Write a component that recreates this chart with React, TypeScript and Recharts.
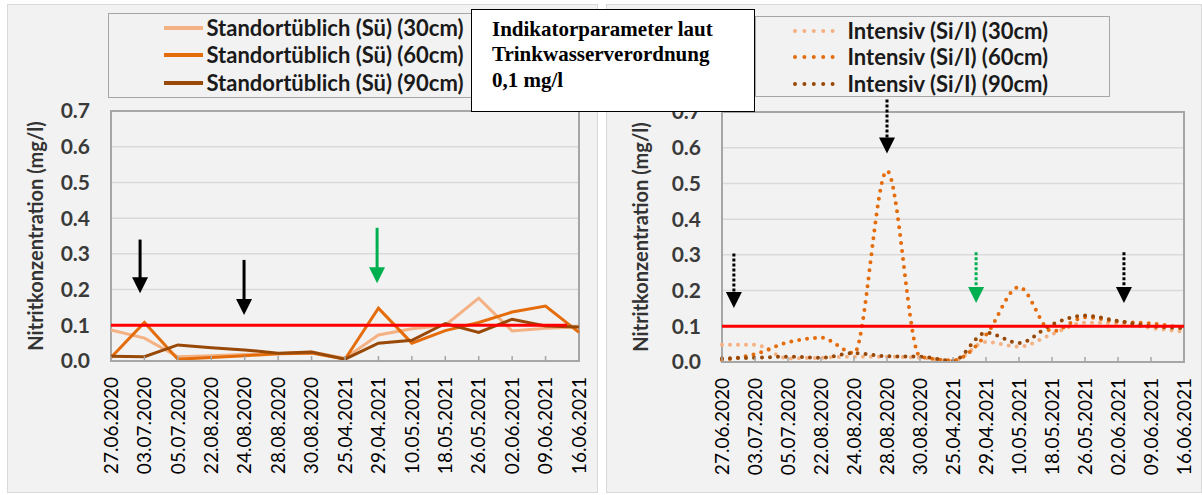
import React from "react";
import {
  LineChart,
  Line,
  XAxis,
  YAxis,
  CartesianGrid,
  ReferenceLine,
  ReferenceArea,
  Legend,
} from "recharts";

const dates = [
  "27.06.2020", "03.07.2020", "05.07.2020", "22.08.2020", "24.08.2020",
  "28.08.2020", "30.08.2020", "25.04.2021", "29.04.2021", "10.05.2021",
  "18.05.2021", "26.05.2021", "02.06.2021", "09.06.2021", "16.06.2021",
];

const standortNames = [
  "Standortüblich (Sü) (30cm)",
  "Standortüblich (Sü) (60cm)",
  "Standortüblich (Sü) (90cm)",
];
const intensivNames = [
  "Intensiv (Si/I) (30cm)",
  "Intensiv (Si/I) (60cm)",
  "Intensiv (Si/I) (90cm)",
];

const standort30 = [0.087, 0.064, 0.012, 0.015, 0.018, 0.02, 0.025, 0.008, 0.073, 0.09, 0.1, 0.176, 0.084, 0.092, 0.095];
const standort60 = [0.01, 0.108, 0.005, 0.01, 0.015, 0.02, 0.022, 0.005, 0.148, 0.05, 0.085, 0.108, 0.137, 0.154, 0.08];
const standort90 = [0.013, 0.012, 0.045, 0.037, 0.031, 0.022, 0.025, 0.005, 0.05, 0.058, 0.105, 0.08, 0.117, 0.098, 0.095];

const intensiv30 = [0.048, 0.048, 0.01, 0.012, 0.015, 0.015, 0.012, 0.003, 0.056, 0.043, 0.078, 0.11, 0.108, 0.095, 0.085];
const intensiv60 = [0.005, 0.022, 0.055, 0.068, 0.025, 0.535, 0.015, 0.005, 0.076, 0.21, 0.086, 0.125, 0.113, 0.108, 0.095];
const intensiv90 = [0.01, 0.012, 0.015, 0.012, 0.025, 0.016, 0.015, 0.003, 0.082, 0.053, 0.105, 0.13, 0.115, 0.1, 0.095];

const yTicks = [0, 0.1, 0.2, 0.3, 0.4, 0.5, 0.6, 0.7];
const limit = 0.1;
// how far along the date axis the limit line runs in each panel
const leftLimitEnd = 13.64;
const rightLimitEnd = 14;

// annotation arrows: position on the date axis (index), start value, tip value
const leftArrows = [
  { at: 0.87, from: 0.34, to: 0.19, color: "#000000" },
  { at: 3.98, from: 0.283, to: 0.129, color: "#000000" },
  { at: 7.96, from: 0.373, to: 0.218, color: "#00b050" },
];
const rightArrows = [
  { at: 0.36, from: 0.304, to: 0.151, color: "#000000" },
  { at: 5.0, from: 0.735, to: 0.584, color: "#000000" },
  { at: 7.7, from: 0.307, to: 0.165, color: "#00b050" },
  { at: 12.18, from: 0.307, to: 0.165, color: "#000000" },
];

const colors = ["#f4b183", "#e46c0a", "#984807"];
const SANS = "Lato, 'Open Sans', sans-serif";
const xTicks = dates.map((_, i) => i);

const leftData = dates.map((d, i) => ({
  x: i,
  s30: standort30[i],
  s60: standort60[i],
  s90: standort90[i],
}));
const rightData = dates.map((d, i) => ({
  x: i,
  s30: intensiv30[i],
  s60: intensiv60[i],
  s90: intensiv90[i],
}));

const DateTick = (props: any) => {
  const { x, y, payload } = props;
  return (
    <g transform={`translate(${x},${y})`}>
      <line x1={0} y1={0} x2={0} y2={-5} stroke="#a6a6a6" strokeWidth={1.5} />
      <text
        transform="rotate(-90)"
        x={-16}
        y={0}
        dy="0.35em"
        textAnchor="end"
        fontSize={19}
        fill="#000"
        fontFamily={SANS}
      >
        {dates[payload.value]}
      </text>
    </g>
  );
};

const arrowShape = (color: string, dotted: boolean) => (props: any) => {
  const { x1, y1, x2, y2 } = props;
  return (
    <g>
      <line
        x1={x1}
        y1={y1}
        x2={x2}
        y2={y2 - 14}
        stroke={color}
        strokeWidth={3}
        strokeDasharray={dotted ? "3 2" : undefined}
      />
      <polygon
        points={`${x2 - 8},${y2 - 16} ${x2 + 8},${y2 - 16} ${x2},${y2}`}
        fill={color}
      />
    </g>
  );
};

const yTitle = (offset: number) => (props: any) => {
  const vb = props.viewBox;
  const cx = vb.x + offset;
  const cy = vb.y + vb.height / 2;
  return (
    <text
      x={cx}
      y={cy}
      transform={`rotate(-90 ${cx} ${cy})`}
      textAnchor="middle"
      dominantBaseline="central"
      fontSize={20}
      fontWeight={700}
      fontFamily={SANS}
      fill="#333"
    >
      Nitritkonzentration (mg/l)
    </text>
  );
};

const LegendBox = ({ names, dotted, padLeft, padTop, rowH, sampleW, gap }: any) => (
  <div
    style={{
      boxSizing: "border-box",
      width: "100%",
      height: "100%",
      border: "1.5px solid #a6a6a6",
      background: "#f2f2f2",
      paddingLeft: padLeft,
      paddingTop: padTop,
    }}
  >
    {names.map((n: string, i: number) => (
      <div key={n} style={{ display: "flex", alignItems: "center", height: rowH }}>
        <svg width={sampleW} height={8} style={{ marginRight: gap, flex: "none" }}>
          <line
            x1={dotted ? 2 : 0}
            y1={4}
            x2={dotted ? sampleW - 1 : sampleW}
            y2={4}
            stroke={colors[i]}
            strokeWidth={4}
            strokeDasharray={dotted ? "0 9.4" : undefined}
            strokeLinecap={dotted ? "round" : "butt"}
          />
        </svg>
        <span
          style={{
            fontFamily: SANS,
            fontWeight: 700,
            fontSize: 22,
            color: "#1a1a1a",
            whiteSpace: "nowrap",
            lineHeight: 1,
          }}
        >
          {n}
        </span>
      </div>
    ))}
  </div>
);

const NitritChart = ({ data, dotted, arrows, yWidth, titleOffset, limitEnd, legend }: any) => {
  const keys = ["s30", "s60", "s90"];
  return (
    <LineChart
      width={dotted ? 596 : 590}
      height={489}
      data={data}
      margin={{ top: dotted ? 108 : 107, right: 18, left: 0, bottom: 0 }}
    >
      <CartesianGrid horizontal vertical={false} stroke="#d9d9d9" strokeWidth={1.5} />
      <ReferenceArea
        x1={0}
        x2={14}
        y1={0}
        y2={0.7}
        fill="none"
        stroke="#a6a6a6"
        strokeWidth={2}
        ifOverflow="visible"
      />
      <XAxis
        dataKey="x"
        type="number"
        domain={[0, 14]}
        ticks={xTicks}
        interval={0}
        height={dotted ? 131 : 132}
        tickSize={0}
        tickMargin={0}
        tickLine={false}
        axisLine={{ stroke: "#a6a6a6", strokeWidth: 2 }}
        tick={<DateTick />}
      />
      <YAxis
        domain={[0, 0.7]}
        ticks={yTicks}
        width={yWidth}
        tickSize={0}
        tickMargin={21}
        tickLine={false}
        axisLine={false}
        tickFormatter={(v: number) => v.toFixed(1)}
        tick={{ fontSize: 21, fontWeight: 700, fill: "#3a3a3a", fontFamily: SANS }}
        label={{ content: yTitle(titleOffset) }}
      />
      {keys.map((k, i) => (
        <Line
          key={k}
          dataKey={k}
          name={(dotted ? intensivNames : standortNames)[i]}
          type={dotted ? "monotone" : "linear"}
          stroke={colors[i]}
          strokeWidth={dotted ? 4 : 3}
          strokeDasharray={dotted ? "0 8" : undefined}
          strokeLinecap={dotted ? "round" : "butt"}
          dot={false}
          isAnimationActive={false}
        />
      ))}
      <ReferenceLine
        segment={[
          { x: 0, y: limit },
          { x: limitEnd, y: limit },
        ]}
        stroke="#ff0000"
        strokeWidth={3}
      />
      {arrows.map((a: any, i: number) => (
        <ReferenceLine
          key={i}
          segment={[
            { x: a.at, y: a.from },
            { x: a.at, y: a.to },
          ]}
          ifOverflow="visible"
          shape={arrowShape(a.color, dotted)}
        />
      ))}
      <Legend
        layout="vertical"
        align="center"
        verticalAlign="middle"
        wrapperStyle={legend.style}
        content={() => <LegendBox {...legend.box} />}
      />
    </LineChart>
  );
};

export default function App() {
  return (
    <div style={{ position: "absolute", left: 0, top: 0, width: 1202, height: 495, background: "#fff", overflow: "hidden" }}>
      <div style={{ position: "absolute", left: 7, top: 4, width: 591, height: 489, background: "#f2f2f2", boxSizing: "border-box", border: "1px solid #d9d9d9" }} />
      <div style={{ position: "absolute", left: 606, top: 4, width: 596, height: 489, background: "#f2f2f2", boxSizing: "border-box", border: "1px solid #d9d9d9" }} />
      <div style={{ position: "absolute", left: 7, top: 4 }}>
        <NitritChart
          data={leftData}
          dotted={false}
          arrows={leftArrows}
          yWidth={104}
          titleOffset={28}
          limitEnd={leftLimitEnd}
          legend={{
            style: { left: 101, top: 9, width: 372, height: 85 },
            box: { names: standortNames, dotted: false, padLeft: 54.5, padTop: 0, rowH: 27.5, sampleW: 39, gap: 4 },
          }}
        />
      </div>
      <div style={{ position: "absolute", left: 606, top: 4 }}>
        <NitritChart
          data={rightData}
          dotted
          arrows={rightArrows}
          yWidth={116}
          titleOffset={34}
          limitEnd={rightLimitEnd}
          legend={{
            style: { left: 149, top: 12, width: 355, height: 81 },
            box: { names: intensivNames, dotted: true, padLeft: 36.5, padTop: 0.5, rowH: 26.5, sampleW: 49, gap: 6 },
          }}
        />
      </div>
      <div
        style={{
          position: "absolute",
          left: 471,
          top: 9,
          width: 284,
          height: 103,
          boxSizing: "border-box",
          border: "1.5px solid #000",
          background: "#fff",
          zIndex: 10,
          paddingLeft: 20,
          paddingTop: 6.5,
          fontFamily: "'Liberation Serif', 'Times New Roman', serif",
          fontWeight: 700,
          fontSize: 21,
          lineHeight: "25.5px",
          color: "#000",
        }}
      >
        <div>Indikatorparameter laut</div>
        <div>Trinkwasserverordnung</div>
        <div>0,1 mg/l</div>
      </div>
    </div>
  );
}
